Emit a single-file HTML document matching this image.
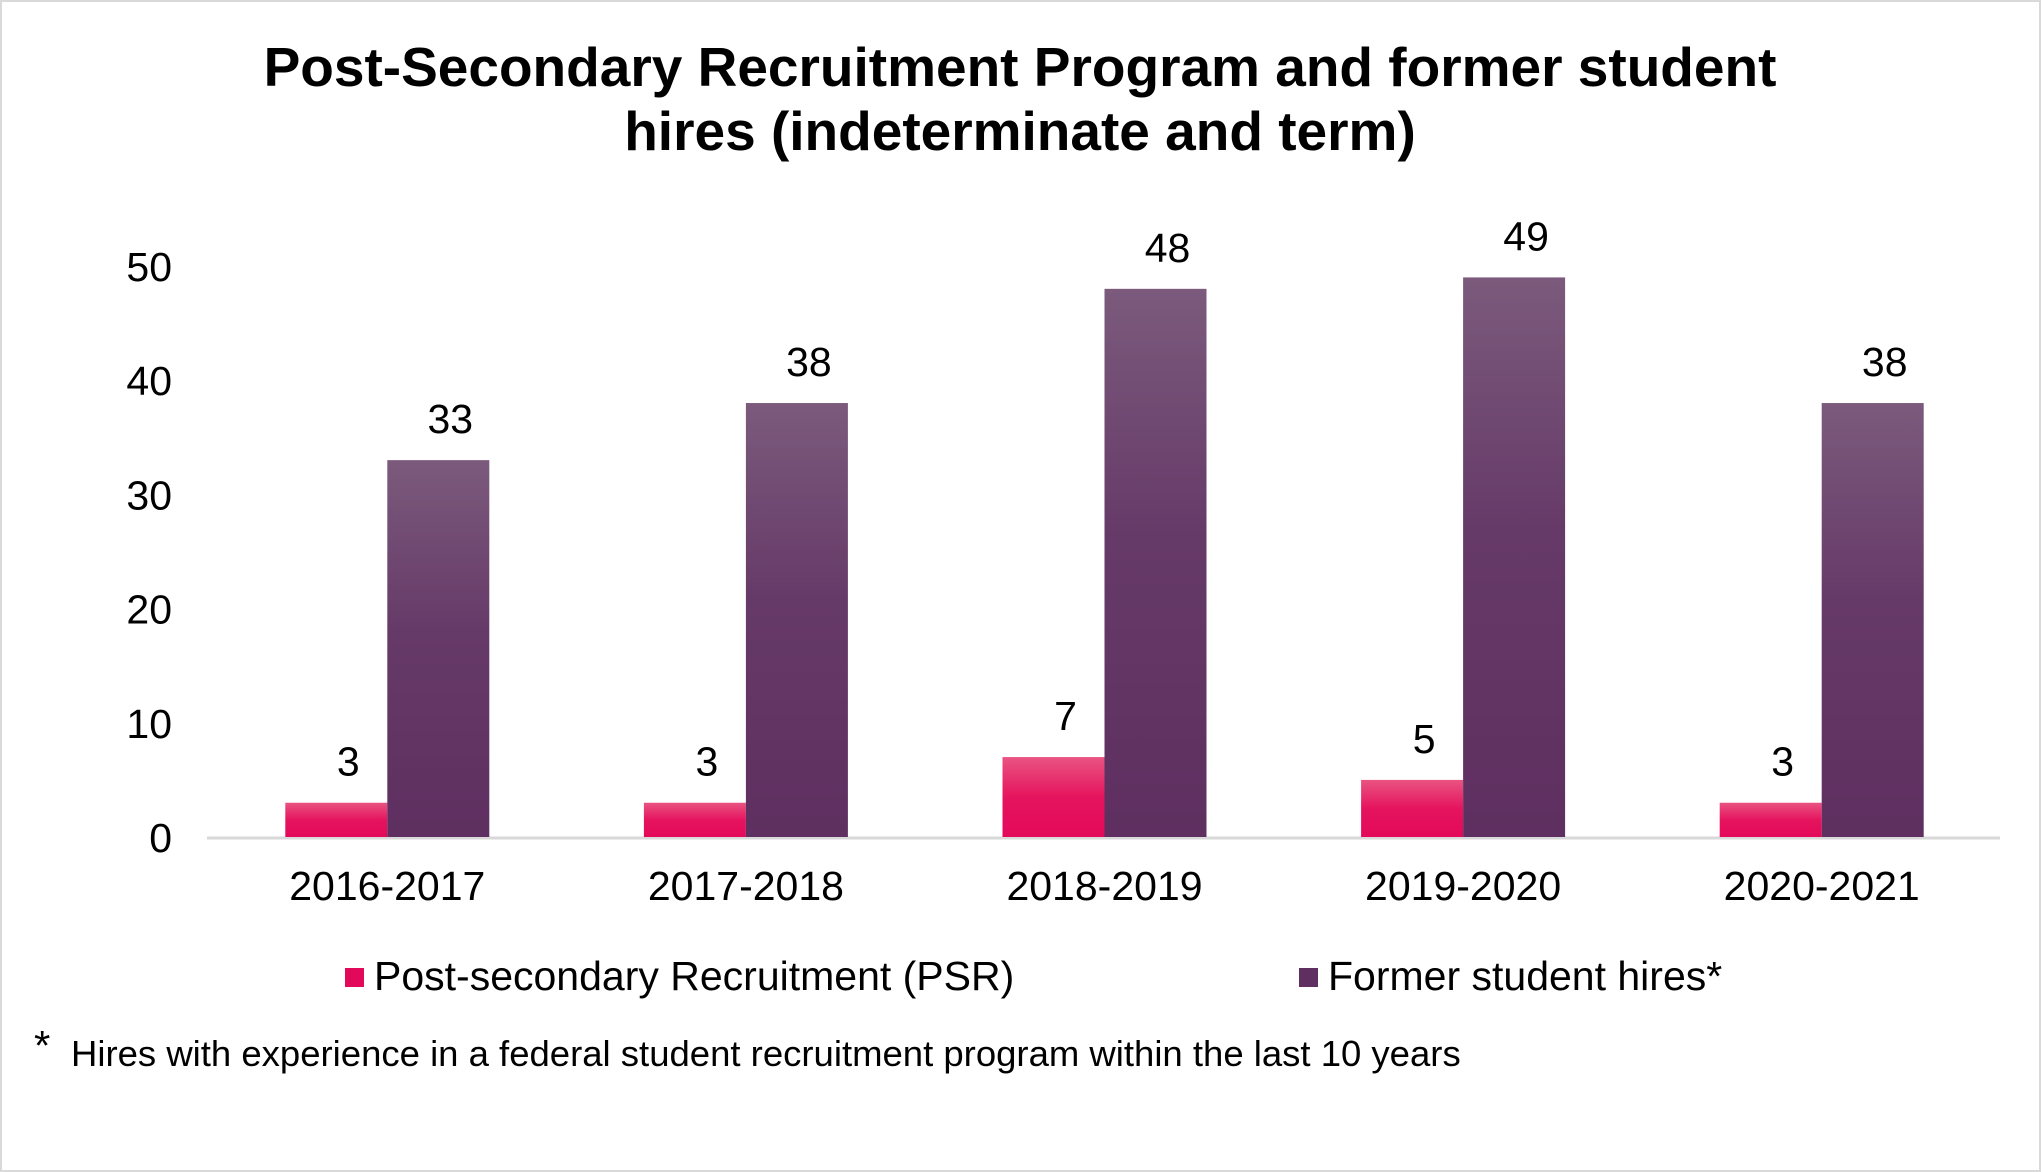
<!DOCTYPE html>
<html><head><meta charset="utf-8"><style>
body{margin:0;background:#fff;}
svg{display:block;font-family:"Liberation Sans",Arial,sans-serif;}
</style></head><body>
<svg id="c" width="2041" height="1172" viewBox="0 0 2041 1172">
<defs>
<linearGradient id="gp" x1="0" y1="0" x2="0" y2="1"><stop offset="0" stop-color="#e95482"/><stop offset="0.5" stop-color="#e5145e"/><stop offset="1" stop-color="#e3095a"/></linearGradient>
<linearGradient id="gf" x1="0" y1="0" x2="0" y2="1"><stop offset="0" stop-color="#7b5a7c"/><stop offset="0.45" stop-color="#663a68"/><stop offset="1" stop-color="#5e2f60"/></linearGradient>
</defs>
<rect x="1" y="1" width="2039" height="1170" fill="#fff" stroke="#d9d9d9" stroke-width="2"/>
<text x="1020" y="86" text-anchor="middle" font-size="55" font-weight="bold" fill="#000">Post-Secondary Recruitment Program and former student</text>
<text x="1020" y="150" text-anchor="middle" font-size="55" font-weight="bold" fill="#000">hires (indeterminate and term)</text>
<g id="plot"></g>
<rect x="345" y="968" width="19" height="19" fill="#e3095a"/>
<text x="374" y="990" font-size="41" fill="#000">Post-secondary Recruitment (PSR)</text>
<rect x="1299" y="968" width="19" height="19" fill="#5e2f60"/>
<text x="1328" y="990" font-size="41" fill="#000">Former student hires*</text>
<text x="34" y="1060" font-size="42" fill="#000">*</text>
<text x="71" y="1066" font-size="36.5" fill="#000">Hires with experience in a federal student recruitment program within the last 10 years</text>
</svg>
<script>
const categories=["2016-2017","2017-2018","2018-2019","2019-2020","2020-2021"];
const psrValues=[3,3,7,5,3];
const formerValues=[33,38,48,49,38];
const yTicks=[0,10,20,30,40,50];
const NS="http://www.w3.org/2000/svg";
const g=document.getElementById("plot");
const x0=208,cw=358.6,bw=102,y0=837,yTop=266,yMax=50,lblOff=12;
const y=v=>y0-(y0-yTop)*v/yMax;
const cx=i=>x0+cw*(i+0.5);
function mk(t,a){const e=document.createElementNS(NS,t);for(const k in a)e.setAttribute(k,a[k]);g.appendChild(e);return e;}
yTicks.forEach(t=>{
 const e=mk("text",{x:172,y:y(t)+15,"text-anchor":"end","font-size":41,fill:"#000"});
 e.textContent=t;
 
 
});
const ax=mk("line",{x1:207,x2:2000,y1:y0+1,y2:y0+1,stroke:"#d9d9d9","stroke-width":3});


categories.forEach((c,i)=>{
 const p=psrValues[i],f=formerValues[i];
 const b1=mk("rect",{x:cx(i)-bw,y:y(p),width:bw,height:y0-y(p),fill:"url(#gp)"});
 
 
 const b2=mk("rect",{x:cx(i),y:y(f),width:bw,height:y0-y(f),fill:"url(#gf)"});
 
 
 const l1=mk("text",{x:cx(i)-bw/2+lblOff,y:y(p)-27,"text-anchor":"middle","font-size":41,fill:"#000"});
 l1.textContent=p;
 
 
 const l2=mk("text",{x:cx(i)+bw/2+lblOff,y:y(f)-27,"text-anchor":"middle","font-size":41,fill:"#000"});
 l2.textContent=f;
 
 
 const xl=mk("text",{x:cx(i),y:900,"text-anchor":"middle","font-size":41,fill:"#000"});
 xl.textContent=c;
 
 
});
</script>
</body></html>
